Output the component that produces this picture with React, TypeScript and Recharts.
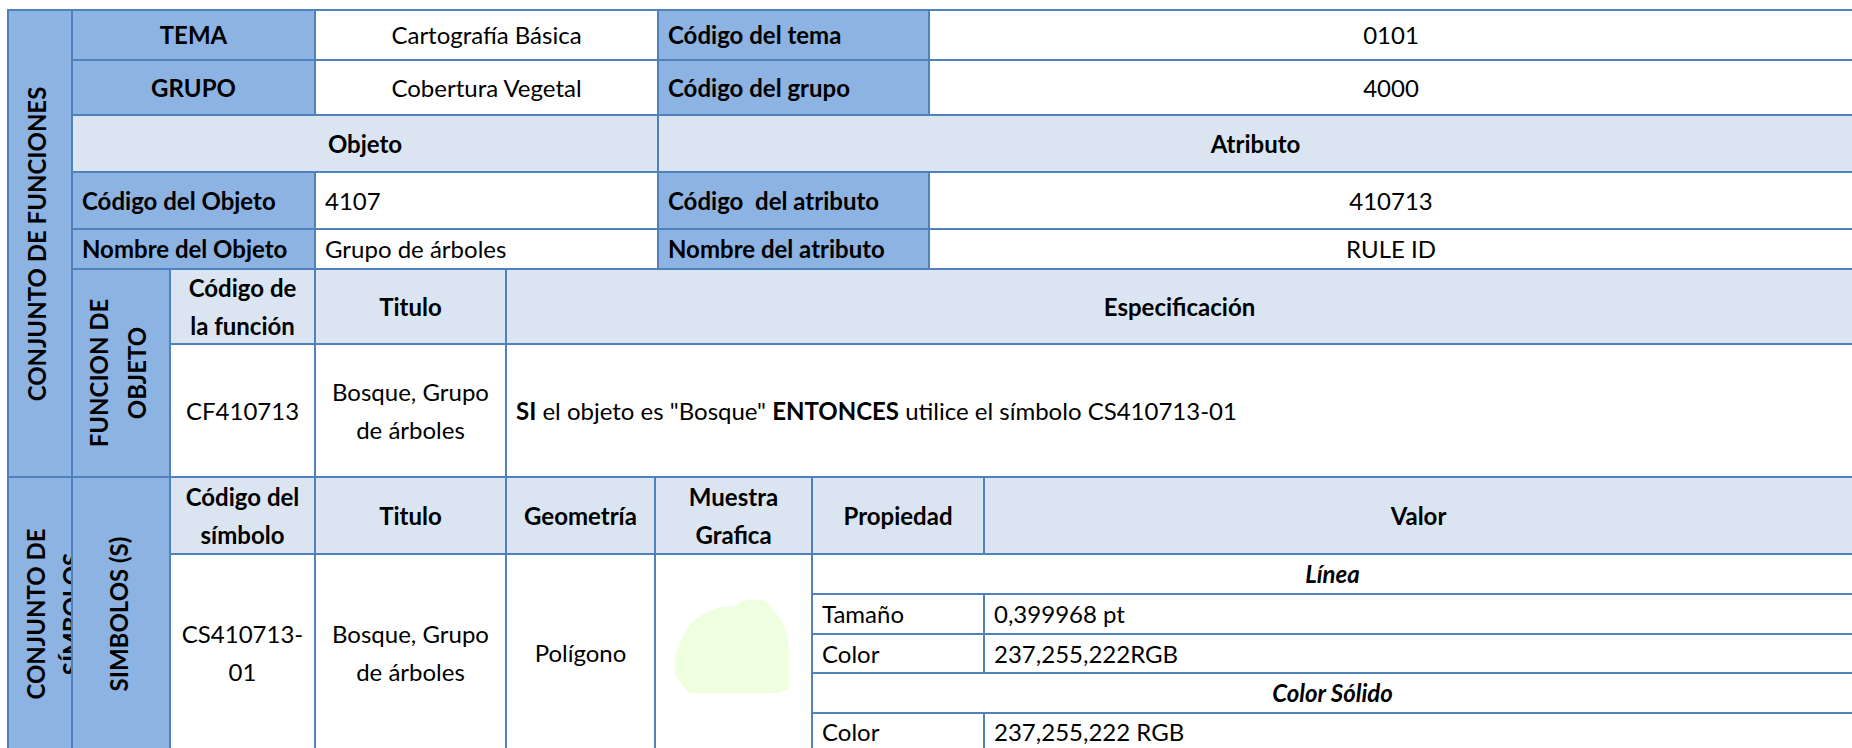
import React from "react";
import { ComposedChart, Area, XAxis, YAxis } from "recharts";

const themeLabels = ["TEMA", "GRUPO"];
const themeValues = ["Cartografía Básica", "Cobertura Vegetal"];
const themeCodeLabels = ["Código del tema", "Código del grupo"];
const themeCodes = ["0101", "4000"];
const sectionHeaders = ["Objeto", "Atributo"];
const objectLabels = ["Código del Objeto", "Nombre del Objeto"];
const objectValues = ["4107", "Grupo de árboles"];
const attributeLabels = ["Código  del atributo", "Nombre del atributo"];
const attributeValues = ["410713", "RULE ID"];
const groupTitles = ["CONJUNTO DE FUNCIONES", "CONJUNTO DE\nSÍMBOLOS"];
const subGroupTitles = ["FUNCION DE\nOBJETO", "SIMBOLOS (S)"];
const functionHeaders = ["Código de\nla función", "Titulo", "Especificación"];
const functionCells = ["CF410713", "Bosque, Grupo\nde árboles"];
const specParts: [string, boolean][] = [
  ["SI", true],
  [" el objeto es \"Bosque\" ", false],
  ["ENTONCES", true],
  [" utilice el símbolo CS410713-01", false],
];
const symbolHeaders = ["Código del\nsímbolo", "Titulo", "Geometría", "Muestra\nGrafica", "Propiedad", "Valor"];
const symbolCells = ["CS410713-\n01", "Bosque, Grupo\nde árboles", "Polígono"];
const propertyGroups = ["Línea", "Color Sólido"];
const propertyNames = ["Tamaño", "Color", "Color"];
const propertyValues = ["0,399968 pt", "237,255,222RGB", "237,255,222 RGB"];

// outline of the sample polygon (px inside the sample box, y down)
const sampleX = [0, 8, 17, 30, 45, 58, 72, 85, 100, 110, 114];
const sampleTop = [60, 37, 23, 14, 8, 7, 0, 0, 13, 30, 53];
const sampleBottom = [73, 85, 93, 93, 93, 93, 93, 93, 93, 90, 88];
const sampleFill = "rgb(237,255,222)";

const BORDER = "#4F81BD";
const DARK = "#8DB3E2";
const LIGHT = "#DBE5F1";

// column and row edges of the grid
const C = { a: 8, b: 72, c: 170, d: 315, e: 506, f: 658, g: 655, h: 812, i: 929, j: 984, r: 1853 };
const R = [10, 60, 115, 172, 229, 269, 344, 477, 554, 594, 634, 673, 713, 751];

type CellProps = {
  x0: number;
  x1: number;
  y0: number;
  y1: number;
  bg?: string;
  left?: boolean;
  bold?: boolean;
  italic?: boolean;
  children?: React.ReactNode;
};

function Cell({ x0, x1, y0, y1, bg = "#fff", left, bold, italic, children }: CellProps) {
  return (
    <div
      style={{
        position: "absolute",
        left: x0 - 1,
        top: y0 - 1,
        width: x1 - x0 + 2,
        height: y1 - y0 + 2,
        boxSizing: "border-box",
        border: `2px solid ${BORDER}`,
        background: bg,
        display: "flex",
        alignItems: "center",
        justifyContent: left ? "flex-start" : "center",
        textAlign: left ? "left" : "center",
        paddingLeft: left ? 9 : 0,
        overflow: "hidden",
        fontWeight: bold ? 700 : 400,
        fontStyle: italic ? "italic" : "normal",
        whiteSpace: "pre",
        lineHeight: "38px",
      }}
    >
      {children}
    </div>
  );
}

function Vertical({ text, dx, lh }: { text: string; dx: number; lh: number }) {
  return (
    <div
      style={{
        flex: "none",
        whiteSpace: "pre",
        textAlign: "center",
        lineHeight: `${lh}px`,
        fontWeight: 700,
        transform: `translateX(${dx}px) rotate(-90deg)`,
      }}
    >
      {text}
    </div>
  );
}

function SampleShape() {
  const data = sampleX.map((x, i) => ({ x, range: [sampleBottom[i], sampleTop[i]] }));
  return (
    <ComposedChart width={114} height={93} data={data} margin={{ top: 0, right: 0, bottom: 0, left: 0 }}>
      <XAxis dataKey="x" type="number" domain={[0, 114]} hide />
      <YAxis type="number" domain={[0, 93]} reversed hide />
      <Area
        dataKey="range"
        type="monotone"
        stroke={sampleFill}
        fill={sampleFill}
        fillOpacity={1}
        dot={false}
        activeDot={false}
        isAnimationActive={false}
      />
    </ComposedChart>
  );
}

export default function App() {
  return (
    <div
      style={{
        position: "fixed",
        left: 0,
        top: 0,
        width: 1852,
        height: 748,
        overflow: "hidden",
        background: "#fff",
        fontFamily: "Lato, 'Noto Sans', sans-serif",
        fontSize: 24,
        color: "#000",
      }}
    >
      {/* left group columns */}
      <Cell x0={C.a} x1={C.b} y0={R[0]} y1={R[7]} bg={DARK}>
        <Vertical text={groupTitles[0]} dx={-3} lh={30} />
      </Cell>
      <Cell x0={C.a} x1={C.b} y0={R[7]} y1={R[13]} bg={DARK}>
        <Vertical text={groupTitles[1]} dx={14} lh={36} />
      </Cell>

      {/* tema / grupo */}
      {themeLabels.map((t, i) => (
        <React.Fragment key={t}>
          <Cell x0={C.b} x1={C.d} y0={R[i]} y1={R[i + 1]} bg={DARK} bold>{t}</Cell>
          <Cell x0={C.d} x1={C.f} y0={R[i]} y1={R[i + 1]}>{themeValues[i]}</Cell>
          <Cell x0={C.f} x1={C.i} y0={R[i]} y1={R[i + 1]} bg={DARK} bold left>{themeCodeLabels[i]}</Cell>
          <Cell x0={C.i} x1={C.r} y0={R[i]} y1={R[i + 1]}>{themeCodes[i]}</Cell>
        </React.Fragment>
      ))}

      {/* objeto / atributo */}
      <Cell x0={C.b} x1={C.f} y0={R[2]} y1={R[3]} bg={LIGHT} bold>{sectionHeaders[0]}</Cell>
      <Cell x0={C.f} x1={C.r} y0={R[2]} y1={R[3]} bg={LIGHT} bold>{sectionHeaders[1]}</Cell>
      {objectLabels.map((t, i) => (
        <React.Fragment key={t}>
          <Cell x0={C.b} x1={C.d} y0={R[3 + i]} y1={R[4 + i]} bg={DARK} bold left>{t}</Cell>
          <Cell x0={C.d} x1={C.f} y0={R[3 + i]} y1={R[4 + i]} left>{objectValues[i]}</Cell>
          <Cell x0={C.f} x1={C.i} y0={R[3 + i]} y1={R[4 + i]} bg={DARK} bold left>{attributeLabels[i]}</Cell>
          <Cell x0={C.i} x1={C.r} y0={R[3 + i]} y1={R[4 + i]}>{attributeValues[i]}</Cell>
        </React.Fragment>
      ))}

      {/* funcion de objeto */}
      <Cell x0={C.b} x1={C.c} y0={R[5]} y1={R[7]} bg={DARK}>
        <Vertical text={subGroupTitles[0]} dx={-3} lh={38} />
      </Cell>
      <Cell x0={C.c} x1={C.d} y0={R[5]} y1={R[6]} bg={LIGHT} bold>{functionHeaders[0]}</Cell>
      <Cell x0={C.d} x1={C.e} y0={R[5]} y1={R[6]} bg={LIGHT} bold>{functionHeaders[1]}</Cell>
      <Cell x0={C.e} x1={C.r} y0={R[5]} y1={R[6]} bg={LIGHT} bold>{functionHeaders[2]}</Cell>
      <Cell x0={C.c} x1={C.d} y0={R[6]} y1={R[7]}>{functionCells[0]}</Cell>
      <Cell x0={C.d} x1={C.e} y0={R[6]} y1={R[7]}>{functionCells[1]}</Cell>
      <Cell x0={C.e} x1={C.r} y0={R[6]} y1={R[7]} left>
        <span>
          {specParts.map(([s, b], i) => (
            <span key={i} style={{ fontWeight: b ? 700 : 400 }}>{s}</span>
          ))}
        </span>
      </Cell>

      {/* simbolos */}
      <Cell x0={C.b} x1={C.c} y0={R[7]} y1={R[13]} bg={DARK}>
        <Vertical text={subGroupTitles[1]} dx={-2} lh={30} />
      </Cell>
      {[C.c, C.d, C.e, C.g, C.h, C.j].map((x, i, arr) => (
        <Cell key={i} x0={x} x1={i < arr.length - 1 ? arr[i + 1] : C.r} y0={R[7]} y1={R[8]} bg={LIGHT} bold>
          {symbolHeaders[i]}
        </Cell>
      ))}
      {[C.c, C.d, C.e].map((x, i, arr) => (
        <Cell key={i} x0={x} x1={i < arr.length - 1 ? arr[i + 1] : C.g} y0={R[8]} y1={R[13]}>
          {symbolCells[i]}
        </Cell>
      ))}
      <Cell x0={C.g} x1={C.h} y0={R[8]} y1={R[13]} />
      <div style={{ position: "absolute", left: 675, top: 600 }}>
        <SampleShape />
      </div>

      {/* propiedades */}
      <Cell x0={C.h} x1={C.r} y0={R[8]} y1={R[9]} bold italic>{propertyGroups[0]}</Cell>
      <Cell x0={C.h} x1={C.j} y0={R[9]} y1={R[10]} left>{propertyNames[0]}</Cell>
      <Cell x0={C.j} x1={C.r} y0={R[9]} y1={R[10]} left>{propertyValues[0]}</Cell>
      <Cell x0={C.h} x1={C.j} y0={R[10]} y1={R[11]} left>{propertyNames[1]}</Cell>
      <Cell x0={C.j} x1={C.r} y0={R[10]} y1={R[11]} left>{propertyValues[1]}</Cell>
      <Cell x0={C.h} x1={C.r} y0={R[11]} y1={R[12]} bold italic>{propertyGroups[1]}</Cell>
      <Cell x0={C.h} x1={C.j} y0={R[12]} y1={R[13]} left>{propertyNames[2]}</Cell>
      <Cell x0={C.j} x1={C.r} y0={R[12]} y1={R[13]} left>{propertyValues[2]}</Cell>
    </div>
  );
}
